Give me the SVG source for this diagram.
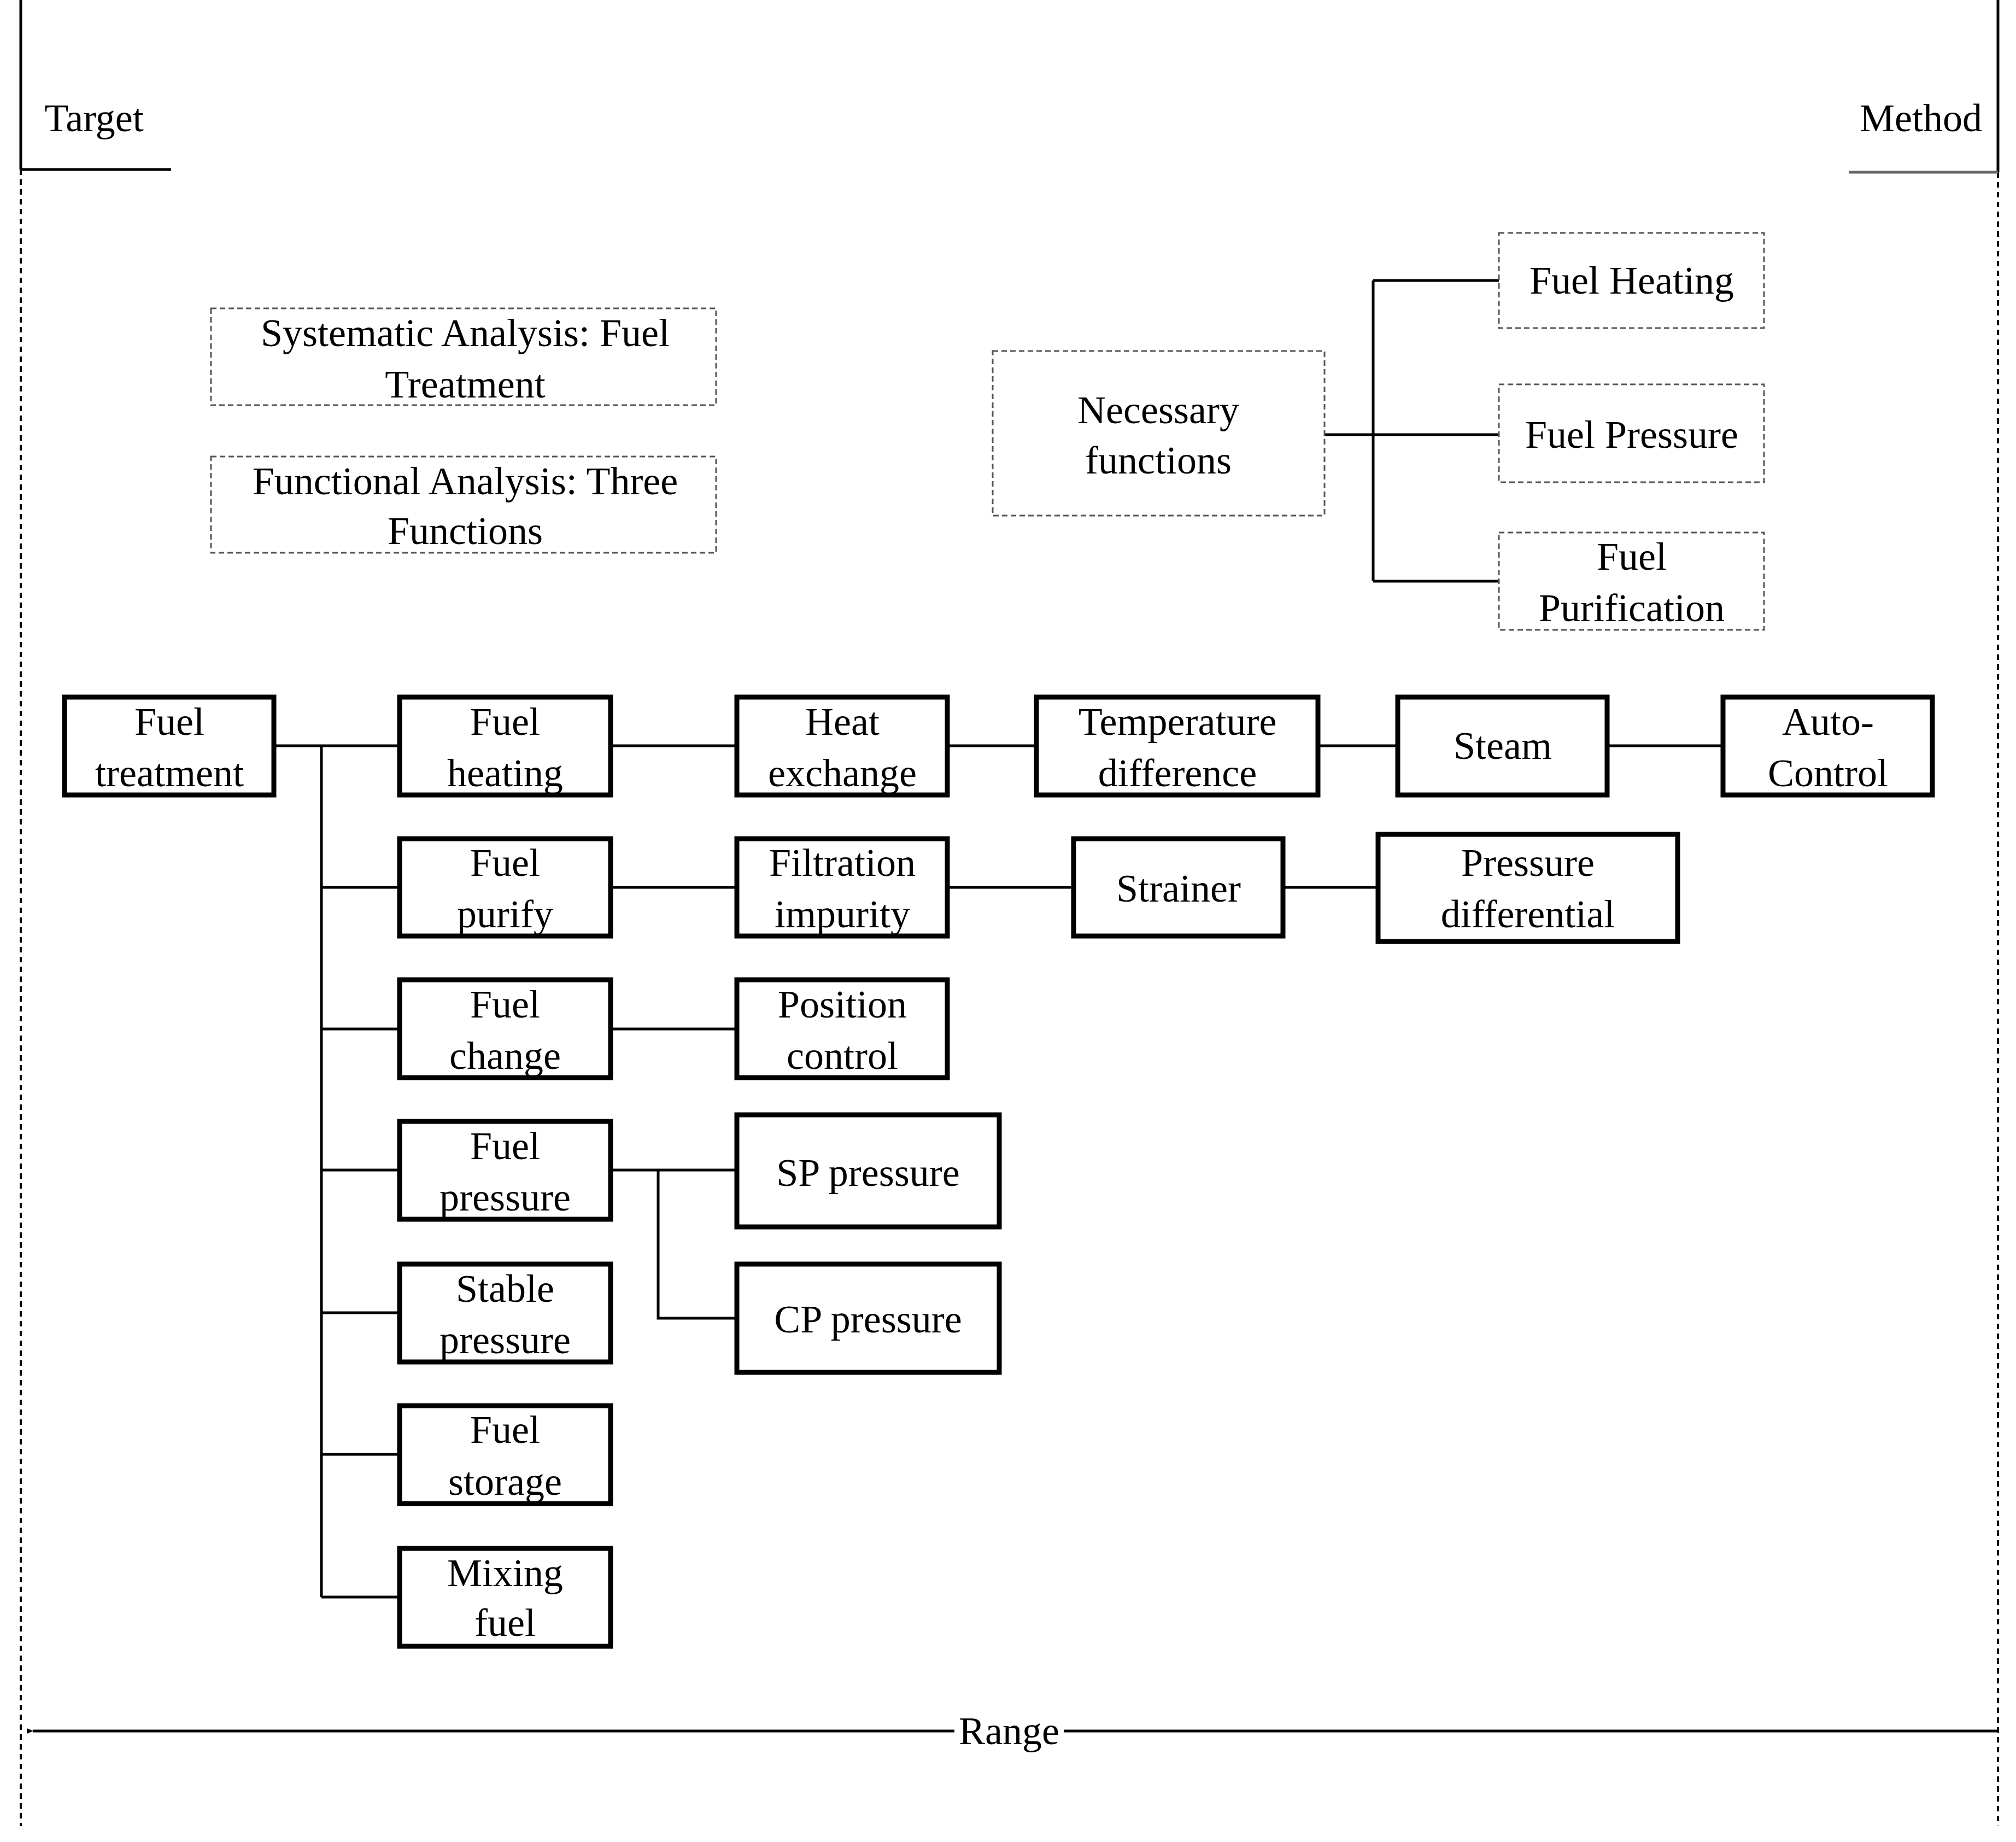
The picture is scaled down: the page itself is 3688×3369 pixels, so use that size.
<svg xmlns="http://www.w3.org/2000/svg" width="3688" height="3369" viewBox="0 0 3688 3369">
<style>
text{font-family:"Liberation Serif","Times New Roman",serif;font-size:72px;fill:#000;text-anchor:middle;dominant-baseline:central}
.b{fill:#fff;stroke:#000;stroke-width:9}
.d{fill:#fff;stroke:#555;stroke-width:3;stroke-dasharray:10 6}
.c{stroke:#000;stroke-width:5;fill:none}
.v{stroke:#000;stroke-width:4;fill:none;stroke-dasharray:10 8}
</style>
<defs><marker id="ah" markerWidth="12" markerHeight="10" refX="1" refY="5" orient="auto" markerUnits="userSpaceOnUse" viewBox="0 0 12 10"><path d="M12,0 L0,5 L12,10 z" fill="#000"/></marker></defs>
<rect width="3688" height="3369" fill="#fff"/>
<g id="frame">
<line class="c" x1="38" y1="0" x2="38" y2="310"/>
<line class="v" x1="38" y1="310" x2="38" y2="3340"/>
<line class="c" x1="38" y1="310" x2="313" y2="310"/>
<text x="172" y="216">Target</text>
<line class="c" x1="3655" y1="0" x2="3655" y2="315"/>
<line class="v" x1="3655" y1="315" x2="3655" y2="3340"/>
<line stroke="#666" stroke-width="5" x1="3382" y1="315" x2="3655" y2="315"/>
<text x="3514" y="216">Method</text>
</g>
<g id="connectors">
<line class="c" x1="3655" y1="3166" x2="1946" y2="3166"/>
<line class="c" x1="1746" y1="3166" x2="60" y2="3166" marker-end="url(#ah)"/>
<path class="c" d="M2423,795 H2512 M2512,513 V1063 M2512,513 H2742 M2512,795 H2742 M2512,1063 H2742"/>
<path class="c" d="M501,1364 H731 M588,1364 V2921 M588,1623 H731 M588,1882 H731 M588,2140 H731 M588,2401 H731 M588,2660 H731 M588,2921 H731"/>
<path class="c" d="M1117,1364 H1348 M1733,1364 H1896 M2411,1364 H2557 M2940,1364 H3152"/>
<path class="c" d="M1117,1623 H1348 M1733,1623 H1964 M2347,1623 H2521"/>
<path class="c" d="M1117,1882 H1348"/>
<path class="c" d="M1117,2140 H1348 M1204,2140 V2411 H1348"/>
</g>
<g id="range"><text x="1846" y="3166">Range</text></g>
<g id="sys"><rect class="d" x="386" y="564" width="924" height="177"/><text x="851" y="609">Systematic Analysis: Fuel</text><text x="851" y="703">Treatment</text></g>
<g id="func"><rect class="d" x="386" y="835" width="924" height="176"/><text x="851" y="880">Functional Analysis: Three</text><text x="851" y="971">Functions</text></g>
<g id="nec"><rect class="d" x="1816" y="642" width="607" height="301"/><text x="2119" y="750">Necessary</text><text x="2119" y="842">functions</text></g>
<g id="fh"><rect class="d" x="2742" y="426" width="485" height="174"/><text x="2985" y="513">Fuel Heating</text></g>
<g id="fp"><rect class="d" x="2742" y="703" width="485" height="179"/><text x="2985" y="795">Fuel Pressure</text></g>
<g id="fpu"><rect class="d" x="2742" y="974" width="485" height="178"/><text x="2985" y="1018">Fuel</text><text x="2985" y="1112">Purification</text></g>
<g id="ft"><rect class="b" x="118" y="1275" width="383" height="179"/><text x="310" y="1320">Fuel</text><text x="310" y="1414">treatment</text></g>
<g id="fheat"><rect class="b" x="731" y="1275" width="386" height="179"/><text x="924" y="1320">Fuel</text><text x="924" y="1414">heating</text></g>
<g id="hx"><rect class="b" x="1348" y="1275" width="385" height="179"/><text x="1541" y="1320">Heat</text><text x="1541" y="1414">exchange</text></g>
<g id="td"><rect class="b" x="1896" y="1275" width="515" height="179"/><text x="2154" y="1320">Temperature</text><text x="2154" y="1414">difference</text></g>
<g id="steam"><rect class="b" x="2557" y="1275" width="383" height="179"/><text x="2749" y="1364">Steam</text></g>
<g id="ac"><rect class="b" x="3152" y="1275" width="383" height="179"/><text x="3344" y="1320">Auto-</text><text x="3344" y="1414">Control</text></g>
<g id="fpur"><rect class="b" x="731" y="1534" width="386" height="178"/><text x="924" y="1578">Fuel</text><text x="924" y="1672">purify</text></g>
<g id="fi"><rect class="b" x="1348" y="1534" width="385" height="178"/><text x="1541" y="1578">Filtration</text><text x="1541" y="1672">impurity</text></g>
<g id="str"><rect class="b" x="1964" y="1534" width="383" height="178"/><text x="2156" y="1625">Strainer</text></g>
<g id="pd"><rect class="b" x="2521" y="1526" width="548" height="196"/><text x="2795" y="1578">Pressure</text><text x="2795" y="1672">differential</text></g>
<g id="fc"><rect class="b" x="731" y="1792" width="386" height="179"/><text x="924" y="1837">Fuel</text><text x="924" y="1931">change</text></g>
<g id="pc"><rect class="b" x="1348" y="1792" width="385" height="179"/><text x="1541" y="1837">Position</text><text x="1541" y="1931">control</text></g>
<g id="fpr"><rect class="b" x="731" y="2051" width="386" height="179"/><text x="924" y="2096">Fuel</text><text x="924" y="2190">pressure</text></g>
<g id="sp"><rect class="b" x="1348" y="2039" width="480" height="205"/><text x="1588" y="2145">SP pressure</text></g>
<g id="cp"><rect class="b" x="1348" y="2312" width="480" height="198"/><text x="1588" y="2413">CP pressure</text></g>
<g id="stp"><rect class="b" x="731" y="2312" width="386" height="179"/><text x="924" y="2357">Stable</text><text x="924" y="2451">pressure</text></g>
<g id="fs"><rect class="b" x="731" y="2571" width="386" height="179"/><text x="924" y="2615">Fuel</text><text x="924" y="2710">storage</text></g>
<g id="mf"><rect class="b" x="731" y="2832" width="386" height="179"/><text x="924" y="2877">Mixing</text><text x="924" y="2968">fuel</text></g>
</svg>
